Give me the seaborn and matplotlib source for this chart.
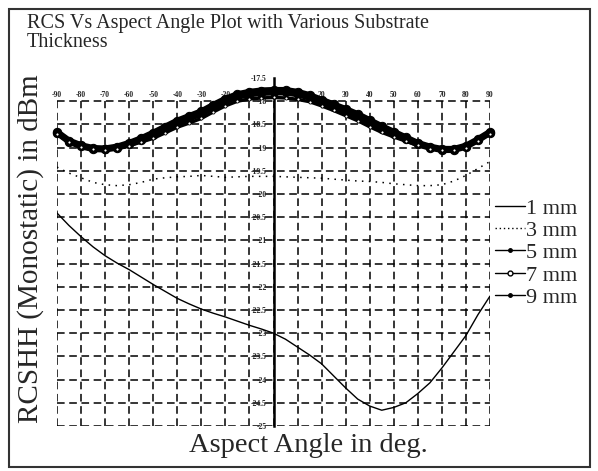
import matplotlib
matplotlib.use("Agg")
import matplotlib.pyplot as plt
import seaborn as sns
import pandas as pd
from matplotlib.lines import Line2D
from matplotlib.patches import Rectangle
from matplotlib.ticker import MultipleLocator

# ---------------- data ----------------
angles = list(range(-90, 91, 5))

rcs_1mm = [-20.41, -20.68, -20.92, -21.14, -21.33, -21.49, -21.63, -21.79, -21.95,
           -22.10, -22.25, -22.37, -22.48, -22.57, -22.65, -22.74, -22.83, -22.91,
           -23.00, -23.13, -23.30, -23.47, -23.66, -23.92, -24.18, -24.42, -24.57,
           -24.66, -24.60, -24.50, -24.30, -24.07, -23.75, -23.40, -23.05, -22.60, -22.20]

rcs_3mm = [-19.42, -19.55, -19.65, -19.75, -19.80, -19.82, -19.80, -19.75, -19.68,
           -19.65, -19.63, -19.62, -19.60, -19.62, -19.64, -19.63, -19.62, -19.62,
           -19.62, -19.63, -19.64, -19.65, -19.66, -19.68, -19.70, -19.72, -19.73,
           -19.75, -19.78, -19.80, -19.82, -19.82, -19.80, -19.72, -19.60, -19.45, -19.30]

rcs_5mm = [-18.68, -18.87, -18.97, -19.03, -19.04, -19.00, -18.93, -18.83, -18.72,
           -18.60, -18.47, -18.37, -18.27, -18.13, -18.00, -17.90, -17.85, -17.82,
           -17.81, -17.81, -17.85, -17.92, -18.02, -18.12, -18.22, -18.33, -18.46,
           -18.59, -18.71, -18.82, -18.93, -19.00, -19.05, -19.05, -18.98, -18.84, -18.68]

rcs_7mm = [-18.70, -18.89, -18.99, -19.04, -19.05, -19.02, -18.96, -18.88, -18.80,
           -18.68, -18.56, -18.47, -18.37, -18.23, -18.10, -18.00, -17.95, -17.93,
           -17.92, -17.93, -17.96, -18.01, -18.10, -18.20, -18.31, -18.42, -18.55,
           -18.67, -18.77, -18.86, -18.95, -19.02, -19.06, -19.06, -19.00, -18.86, -18.70]

rcs_9mm = [-18.66, -18.85, -18.95, -19.01, -19.02, -18.98, -18.90, -18.80, -18.68,
           -18.55, -18.42, -18.32, -18.22, -18.08, -17.95, -17.85, -17.80, -17.77,
           -17.76, -17.76, -17.80, -17.87, -17.97, -18.07, -18.17, -18.28, -18.41,
           -18.54, -18.66, -18.78, -18.90, -18.98, -19.03, -19.03, -18.96, -18.82, -18.66]

series_labels = ["1 mm", "3 mm", "5 mm", "7 mm", "9 mm"]
x_ticks = list(range(-90, 91, 10))
y_ticks = [-25.0, -24.5, -24.0, -23.5, -23.0, -22.5, -22.0, -21.5, -21.0,
           -20.5, -20.0, -19.5, -19.0, -18.5, -18.0, -17.5]
grid_top = -18.0

title_text = "RCS Vs Aspect Angle Plot with Various Substrate\nThickness"
y_label = "RCSHH (Monostatic) in dBm"
x_label = "Aspect Angle in deg."

df = pd.DataFrame({"angle": angles, "1 mm": rcs_1mm, "3 mm": rcs_3mm,
                   "5 mm": rcs_5mm, "7 mm": rcs_7mm, "9 mm": rcs_9mm})

# ---------------- styling ----------------
sns.set_style("white")
plt.rcParams["font.family"] = ["Liberation Serif", "DejaVu Serif"]

W, H = 598, 471
fig = plt.figure(figsize=(W / 100, H / 100), dpi=100)
ax = fig.add_axes([57 / W, 1 - 426 / H, 433 / W, (426 - 78) / H])

# grid (dashed), only inside -90..90 / -25..-18
grid_y = [v for v in y_ticks if v <= grid_top]
ax.hlines(grid_y, x_ticks[0], x_ticks[-1], colors="k", linestyles=(0, (5, 3)),
          linewidth=1.1, zorder=0)
ax.vlines(x_ticks, y_ticks[0], grid_top, colors="k", linestyles=(0, (5, 3)),
          linewidth=1.1, zorder=0)

# curves
sns.lineplot(data=df, x="angle", y="1 mm", ax=ax, color="k", linewidth=1.0,
             legend=False, zorder=3)
sns.lineplot(data=df, x="angle", y="3 mm", ax=ax, color="k", linewidth=1.1,
             linestyle=(0, (1, 3.5)), legend=False, zorder=3)
sns.lineplot(data=df, x="angle", y="5 mm", ax=ax, color="k", linewidth=4.5,
             marker="o", markersize=6, markeredgecolor="k", legend=False,
             clip_on=False, zorder=3)
sns.lineplot(data=df, x="angle", y="9 mm", ax=ax, color="k", linewidth=4.5,
             marker="o", markersize=6, markeredgecolor="k", legend=False,
             clip_on=False, zorder=3)
sns.lineplot(data=df, x="angle", y="7 mm", ax=ax, color="k", linewidth=2.5,
             marker="o", markersize=2.2, markerfacecolor="white",
             markeredgecolor="k", markeredgewidth=0.6, legend=False,
             clip_on=False, zorder=4)

ax.set_xlim(x_ticks[0], x_ticks[-1])
ax.set_ylim(y_ticks[0], y_ticks[-1])
ax.set_xlabel("")
ax.set_ylabel("")

# axes: vertical axis through x=0, tick labels of x along the -18 line
for s in ["right", "bottom"]:
    ax.spines[s].set_visible(False)
ax.spines["top"].set_position(("data", grid_top))
ax.spines["top"].set_visible(False)
ax.spines["left"].set_position(("data", 0))
ax.spines["left"].set_linewidth(1.8)
ax.spines["left"].set_color("k")

ax.xaxis.set_ticks_position("top")
ax.set_xticks(x_ticks)
ax.set_xticklabels([f"{v:d}" for v in x_ticks], fontsize=5.5, fontweight="bold")
ax.tick_params(axis="x", length=0, pad=1.5)

ax.set_yticks(y_ticks)
ax.set_yticklabels([f"{v:g}" for v in y_ticks], fontsize=5.5, fontweight="bold")
ax.yaxis.set_minor_locator(MultipleLocator(0.1))
ax.tick_params(axis="y", which="major", direction="inout", length=8, width=1, pad=1)
ax.tick_params(axis="y", which="minor", direction="in", length=3, width=0.8)
ax.patch.set_alpha(0)

# texts
fig.text(27 / W, 1 - 14 / H, title_text, ha="left", va="top", fontsize=14.5,
         linespacing=1.0)
fig.text(31 / W, 1 - 249 / H, y_label, rotation=90, ha="center", va="center",
         fontsize=21)
fig.text(308 / W, 1 - 445 / H, x_label, ha="center", va="center", fontsize=20.5)

# legend
handles = [
    Line2D([], [], color="k", lw=1.0),
    Line2D([], [], color="k", lw=1.0, ls=(0, (1, 2))),
    Line2D([], [], color="k", lw=1.0, marker="o", ms=2.5),
    Line2D([], [], color="k", lw=1.0, marker="o", ms=3.5, mfc="white"),
    Line2D([], [], color="k", lw=1.0, marker="o", ms=2.5),
]
fig.legend(handles, series_labels, loc="upper left",
           bbox_to_anchor=(495 / W, 1 - 198 / H), frameon=False, fontsize=16,
           handlelength=1.35, handletextpad=0.05, labelspacing=0.08,
           borderpad=0, borderaxespad=0)

# outer frame
fig.patches.append(Rectangle((9 / W, 4 / H), 581 / W, 458 / H,
                             transform=fig.transFigure, fill=False,
                             edgecolor="#333333", linewidth=1.5))

fig.savefig("out.png", dpi=100)
